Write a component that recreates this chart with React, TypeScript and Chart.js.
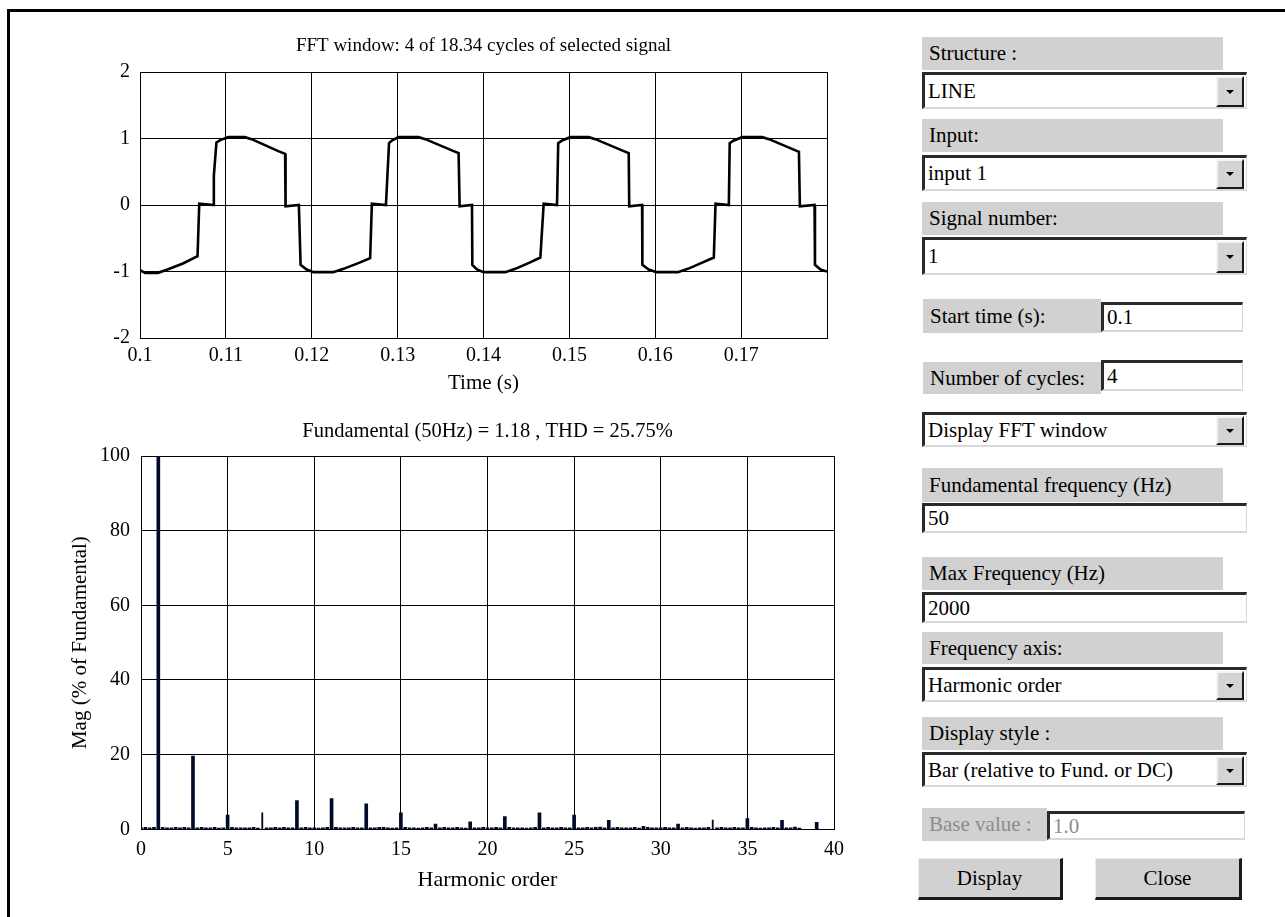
import React, { useEffect, useRef } from 'react';
import { Chart, registerables } from 'chart.js';

Chart.register(...registerables);

const SERIF = '"Liberation Serif", "Times New Roman", Times, serif';

// ---- Time-domain signal (FFT window) ----
const timeS = [
  0.1, 0.1006, 0.1021, 0.1032, 0.105, 0.1067, 0.1069, 0.10855, 0.1086, 0.1089, 0.1094, 0.1103, 0.1122, 0.113, 0.1161, 0.1169, 0.11695, 0.1185, 0.1187, 0.1194, 0.1202,
  0.1225, 0.1237, 0.1255, 0.1268, 0.127, 0.12864, 0.129, 0.12933, 0.1301, 0.13244, 0.13322, 0.13652, 0.1371, 0.13722, 0.13866, 0.1387, 0.13924, 0.14,
  0.14254, 0.1437, 0.1453, 0.14662, 0.14701, 0.14856, 0.1487, 0.14915, 0.15012, 0.15225, 0.15303, 0.15633, 0.15691, 0.15697, 0.15847, 0.1585, 0.15924, 0.16014,
  0.16263, 0.1638, 0.1654, 0.16682, 0.16702, 0.16857, 0.16867, 0.16915, 0.17013, 0.17246, 0.17325, 0.17673, 0.17684, 0.17855, 0.1786, 0.17925, 0.18,
];
const signal = [
  -0.98, -1.02, -1.02, -0.97, -0.88, -0.77, 0.02, 0.0, 0.44, 0.94, 0.98, 1.02, 1.02, 0.99, 0.81, 0.77, -0.02, 0.0, -0.9, -0.97, -1.01,
  -1.01, -0.96, -0.87, -0.8, 0.02, 0.0, 0.93, 0.97, 1.02, 1.02, 0.99, 0.81, 0.78, -0.02, 0.0, -0.9, -0.97, -1.01,
  -1.01, -0.96, -0.87, -0.79, 0.02, 0.0, 0.93, 0.97, 1.02, 1.02, 0.99, 0.81, 0.78, -0.02, 0.0, -0.9, -0.97, -1.01,
  -1.01, -0.96, -0.87, -0.79, 0.02, 0.0, 0.93, 0.97, 1.02, 1.02, 0.99, 0.8, -0.02, 0.0, -0.9, -0.97, -1.0,
];
const timeTicks = [0.1, 0.11, 0.12, 0.13, 0.14, 0.15, 0.16, 0.17, 0.18];
const timeTickLabels = ['0.1', '0.11', '0.12', '0.13', '0.14', '0.15', '0.16', '0.17', ''];
const signalTicks = [-2, -1, 0, 1, 2];

// ---- Spectrum ----
const harmonicOrder = [1, 3, 5, 7, 9, 11, 13, 15, 17, 19, 21, 23, 25, 27, 29, 31, 33, 35, 37, 39];
const harmonicMag = [100, 19.6, 3.8, 4.4, 7.7, 8.2, 6.8, 4.4, 1.4, 2.0, 3.4, 4.4, 3.8, 2.4, 0.8, 1.4, 2.5, 2.9, 2.4, 1.9];
const thinHarmonics = [7, 33];
const binStep = 0.25; // FFT resolution in harmonic order (4 cycles window)
// leakage between harmonics, bins 0, 0.25, 0.5 ... 40 (null where an odd harmonic sits)
const binMag = [
  0.4, 0.5, 0.4, 0.5,  null, 0.5, 0.4, 0.4,  0.5, 0.4, 0.5, 0.4,  null, 0.4, 0.5, 0.4,
  0.4, 0.5, 0.3, 0.4,  null, 0.5, 0.4, 0.4,  0.4, 0.4, 0.5, 0.3,  null, 0.4, 0.4, 0.5,
  0.4, 0.5, 0.4, 0.4,  null, 0.4, 0.5, 0.4,  0.4, 0.3, 0.4, 0.5,  null, 0.5, 0.4, 0.4,
  0.4, 0.5, 0.4, 0.4,  null, 0.4, 0.4, 0.5,  0.5, 0.4, 0.3, 0.4,  null, 0.5, 0.4, 0.4,
  0.3, 0.4, 0.5, 0.4,  null, 0.4, 0.5, 0.4,  0.4, 0.5, 0.4, 0.3,  null, 0.4, 0.4, 0.5,
  0.4, 0.4, 0.5, 0.4,  null, 0.5, 0.4, 0.4,  0.4, 0.3, 0.4, 0.5,  null, 0.4, 0.5, 0.4,
  0.4, 0.5, 0.4, 0.4,  null, 0.4, 0.4, 0.5,  0.4, 0.5, 0.6, 0.4,  null, 0.4, 0.5, 0.4,
  0.4, 0.4, 0.5, 0.3,  null, 0.5, 0.4, 0.4,  0.4, 0.5, 0.4, 0.4,  null, 0.4, 0.5, 0.4,
  0.3, 0.4, 0.4, 0.5,  null, 0.4, 0.5, 0.4,  0.4, 0.5, 0.4, 0.4,  null, 0.5, 0.4, 0.3,
  0.4, 0.4, 0.5, 0.4,  null, 0.4, 0.4, 0.6,  0.3,
];
const harmonicTicks = [0, 5, 10, 15, 20, 25, 30, 35, 40];
const magTicks = [0, 20, 40, 60, 80, 100];

const BAR_COLOR = '#020a2c';

function useChart(makeConfig: () => any) {
  const ref = useRef<HTMLCanvasElement | null>(null);
  useEffect(() => {
    if (!ref.current) return;
    const chart = new Chart(ref.current, makeConfig());
    return () => chart.destroy();
  }, []);
  return ref;
}

const tickFont = { family: SERIF, size: 20, weight: 'normal' as const };
const titleFont = { family: SERIF, size: 21, weight: 'normal' as const };

function TimeChart() {
  const ref = useChart(() => ({
    type: 'line',
    data: {
      datasets: [
        {
          data: timeS.map((t, i) => ({ x: t, y: signal[i] })),
          borderColor: '#000',
          borderWidth: 2.6,
          pointRadius: 0,
          tension: 0,
          fill: false,
          borderCapStyle: 'butt',
        },
      ],
    },
    options: {
      animation: false,
      responsive: false,
      maintainAspectRatio: false,
      layout: { padding: { top: 35, left: 0, right: 53, bottom: 0 } },
      plugins: {
        legend: { display: false },
        tooltip: { enabled: false },
        title: {
          display: true,
          fullSize: false,
          text: 'FFT window: 4 of 18.34 cycles of selected signal',
          color: '#000',
          font: { family: SERIF, size: 19, weight: 'normal' },
          padding: { top: 0, bottom: 14.2 },
        },
      },
      scales: {
        x: {
          type: 'linear',
          min: 0.1,
          max: 0.18,
          afterBuildTicks: (s: any) => { s.ticks = timeTicks.map((v) => ({ value: v })); },
          afterFit: (s: any) => { s.height = 62; },
          ticks: { color: '#000', font: tickFont, padding: 6, maxRotation: 0, autoSkip: false, callback: (_v: any, i: number) => timeTickLabels[i] },
          grid: { color: '#000', lineWidth: 1, drawTicks: false },
          border: { color: '#000', width: 1 },
          title: { display: true, text: 'Time (s)', color: '#000', font: titleFont, padding: { top: 0, bottom: 4.4 } },
        },
        y: {
          type: 'linear',
          min: -2,
          max: 2,
          afterBuildTicks: (s: any) => { s.ticks = signalTicks.map((v) => ({ value: v })); },
          afterFit: (s: any) => { s.width = 140; },
          ticks: { color: '#000', font: tickFont, padding: 10, autoSkip: false },
          grid: { color: '#000', lineWidth: 1, drawTicks: false },
          border: { color: '#000', width: 1 },
        },
      },
    },
  }));
  return <canvas ref={ref} width={880} height={400} style={{ position: 'absolute', left: 0, top: 0, width: 880, height: 400 }} />;
}

function SpectrumChart() {
  const ref = useChart(() => {
    const thick = harmonicOrder
      .map((h, i) => ({ x: h, y: harmonicMag[i] }))
      .filter((p) => !thinHarmonics.includes(p.x));
    const thin = harmonicOrder
      .map((h, i) => ({ x: h, y: harmonicMag[i] }))
      .filter((p) => thinHarmonics.includes(p.x));
    const leak = binMag
      .map((m, i) => ({ x: i * binStep, y: m }))
      .filter((p) => p.y !== null);
    const ds = (data: any[], w: number) => ({
      data,
      backgroundColor: BAR_COLOR,
      borderWidth: 0,
      barThickness: w,
      grouped: false,
    });
    return {
      type: 'bar',
      data: { datasets: [ds(leak, 3), ds(thick, 3), ds(thin, 1.2)] },
      options: {
        animation: false,
        responsive: false,
        maintainAspectRatio: false,
        layout: { padding: { top: 19.7, left: 0, right: 46, bottom: 0 } },
        plugins: {
          legend: { display: false },
          tooltip: { enabled: false },
          title: {
            display: true,
            fullSize: false,
            text: 'Fundamental (50Hz) = 1.18 , THD = 25.75%',
            color: '#000',
            font: { family: SERIF, size: 20.5, weight: 'normal' },
            padding: { top: 0, bottom: 11.7 },
          },
        },
        scales: {
          x: {
            type: 'linear',
            min: 0,
            max: 40,
            offset: false,
            afterBuildTicks: (s: any) => { s.ticks = harmonicTicks.map((v) => ({ value: v })); },
            afterFit: (s: any) => { s.height = 87.7; },
            ticks: { color: '#000', font: tickFont, padding: 8, maxRotation: 0, autoSkip: false },
            grid: { color: '#000', lineWidth: 1, drawTicks: false, offset: false },
            border: { color: '#000', width: 1 },
            title: { display: true, text: 'Harmonic order', color: '#000', font: { family: SERIF, size: 22, weight: 'normal' }, padding: { top: 0, bottom: 23.8 } },
          },
          y: {
            type: 'linear',
            min: 0,
            max: 100,
            afterBuildTicks: (s: any) => { s.ticks = magTicks.map((v) => ({ value: v })); },
            afterFit: (s: any) => { s.width = 141; },
            ticks: { color: '#000', font: tickFont, padding: 11, autoSkip: false },
            grid: { color: '#000', lineWidth: 1, drawTicks: false },
            border: { color: '#000', width: 1 },
            title: { display: true, text: 'Mag (% of Fundamental)', color: '#000', font: titleFont, padding: { top: 67.4, bottom: 0 } },
          },
        },
      },
    };
  });
  return <canvas ref={ref} width={880} height={517} style={{ position: 'absolute', left: 0, top: 400, width: 880, height: 517 }} />;
}

const GRAY = '#d1d1d1';
const baseText: React.CSSProperties = {
  fontFamily: SERIF,
  fontSize: 21,
  lineHeight: 1,
  color: '#000',
  whiteSpace: 'nowrap',
  boxSizing: 'border-box',
  position: 'absolute',
  display: 'flex',
  alignItems: 'center',
};

function GrayLabel({ x, y, w, h, text, disabled }: { x: number; y: number; w: number; h: number; text: string; disabled?: boolean }) {
  return (
    <div style={{ ...baseText, left: x, top: y, width: w, height: h, background: GRAY, paddingLeft: 7, color: disabled ? '#8c8c8c' : '#000' }}>
      {text}
    </div>
  );
}

function Field({ x, y, w, h, text, dropdown, disabled }: { x: number; y: number; w: number; h: number; text: string; dropdown?: boolean; disabled?: boolean }) {
  return (
    <div
      style={{
        ...baseText,
        left: x,
        top: y,
        width: w,
        height: h,
        background: '#fff',
        borderTop: '3px solid #2a2a2a',
        borderLeft: '3px solid #2a2a2a',
        borderRight: '1px solid #d8d8d8',
        borderBottom: '2px solid #d8d8d8',
        paddingLeft: 3,
        color: disabled ? '#8c8c8c' : '#000',
      }}
    >
      {text}
      {dropdown && (
        <div
          style={{
            position: 'absolute',
            right: 2,
            top: 1,
            width: 28,
            height: h - 6,
            boxSizing: 'border-box',
            background: '#d4d4d4',
            borderTop: '2px solid #f4f4f4',
            borderLeft: '2px solid #f4f4f4',
            borderRight: '2px solid #1a1a1a',
            borderBottom: '2px solid #1a1a1a',
            display: 'flex',
            alignItems: 'center',
            justifyContent: 'center',
          }}
        >
          <div style={{ width: 0, height: 0, borderLeft: '4px solid transparent', borderRight: '4px solid transparent', borderTop: '4px solid #000' }} />
        </div>
      )}
    </div>
  );
}

function Btn({ x, y, w, h, text }: { x: number; y: number; w: number; h: number; text: string }) {
  return (
    <div
      style={{
        ...baseText,
        left: x,
        top: y,
        width: w,
        height: h,
        background: GRAY,
        borderTop: '1px solid #ececec',
        borderLeft: '1px solid #ececec',
        borderRight: '3px solid #1a1a1a',
        borderBottom: '3px solid #1a1a1a',
        justifyContent: 'center',
      }}
    >
      {text}
    </div>
  );
}

function Panel() {
  return (
    <>
      <GrayLabel x={922} y={37} w={301} h={33} text="Structure :" />
      <Field x={922} y={72} w={325} h={37} text="LINE" dropdown />
      <GrayLabel x={922} y={119} w={301} h={33} text="Input:" />
      <Field x={922} y={155} w={325} h={36} text="input 1" dropdown />
      <GrayLabel x={922} y={202} w={301} h={33} text="Signal number:" />
      <Field x={922} y={237} w={325} h={38} text="1" dropdown />

      <GrayLabel x={923} y={299} w={178} h={34} text="Start time (s):" />
      <Field x={1101} y={302} w={142} h={30} text="0.1" />
      <GrayLabel x={923} y={362} w={178} h={32} text="Number of cycles:" />
      <Field x={1101} y={360} w={142} h={31} text="4" />

      <Field x={922} y={412} w={325} h={35} text="Display FFT window" dropdown />

      <GrayLabel x={922} y={468} w={301} h={34} text="Fundamental frequency (Hz)" />
      <Field x={922} y={503} w={325} h={30} text="50" />
      <GrayLabel x={922} y={557} w={301} h={33} text="Max Frequency (Hz)" />
      <Field x={922} y={592} w={325} h={31} text="2000" />
      <GrayLabel x={922} y={632} w={301} h={32} text="Frequency axis:" />
      <Field x={922} y={667} w={325} h={35} text="Harmonic order" dropdown />
      <GrayLabel x={922} y={717} w={301} h={33} text="Display style :" />
      <Field x={922} y={752} w={325} h={35} text="Bar (relative to Fund. or DC)" dropdown />

      <GrayLabel x={922} y={808} w={125} h={33} text="Base value :" disabled />
      <Field x={1047} y={811} w={198} h={29} text="1.0" disabled />

      <Btn x={918} y={858} w={145} h={42} text="Display" />
      <Btn x={1095} y={858} w={147} h={42} text="Close" />
    </>
  );
}

export default function App() {
  return (
    <div style={{ position: 'absolute', left: 0, top: 0, width: 1285, height: 917, background: '#fff', overflow: 'hidden' }}>
      <div
        style={{
          position: 'absolute',
          left: 7,
          top: 9,
          width: 1278,
          height: 908,
          boxSizing: 'border-box',
          borderTop: '3px solid #000',
          borderLeft: '3px solid #000',
        }}
      />
      <TimeChart />
      <SpectrumChart />
      <Panel />
    </div>
  );
}
